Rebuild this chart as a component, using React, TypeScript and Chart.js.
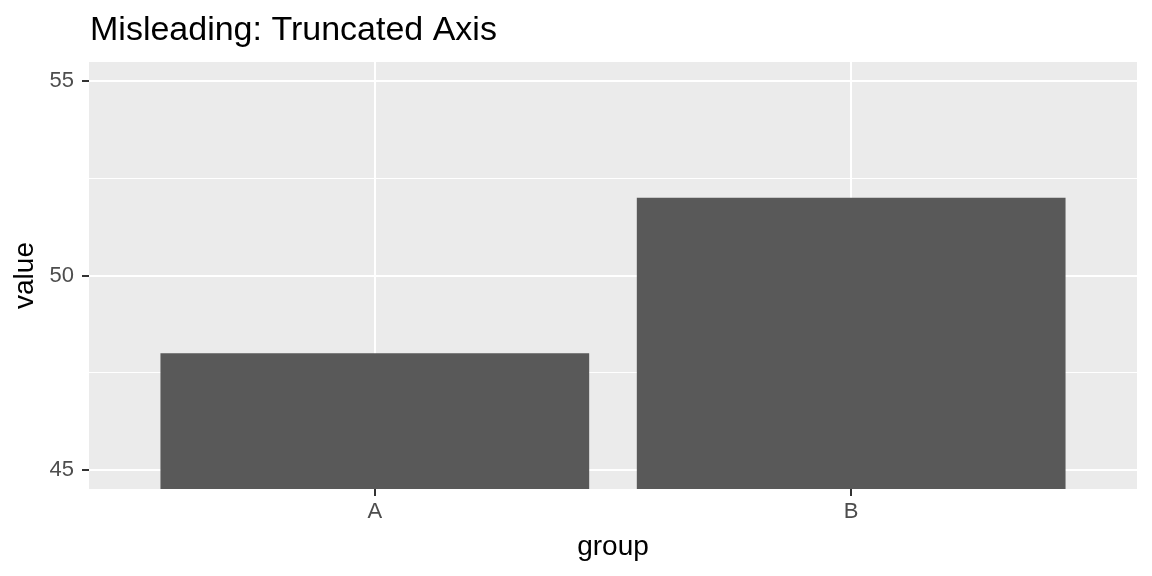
import { useEffect, useRef } from "react"
import { Chart, registerables, type ChartConfiguration, type Plugin } from "chart.js"

Chart.register(...registerables)

const groups = ["A", "B"]
const values = [48, 52]
const yTicks = [45, 50, 55]

const FONT = "'Liberation Sans', Arial, sans-serif"

// ggplot-like panel background and titles
const panelPlugin: Plugin = {
  id: "panel",
  beforeDraw(chart) {
    const { ctx, chartArea } = chart
    ctx.save()
    ctx.fillStyle = "#EBEBEB"
    ctx.fillRect(chartArea.left, chartArea.top, chartArea.right - chartArea.left, chartArea.bottom - chartArea.top)
    ctx.restore()
  },
  afterDraw(chart) {
    const { ctx, chartArea } = chart
    ctx.save()
    ctx.fillStyle = "#000000"
    ctx.font = `34px ${FONT}`
    ctx.textAlign = "left"
    ctx.textBaseline = "alphabetic"
    ctx.fillText("Misleading: Truncated Axis", chartArea.left + 1, 40)

    ctx.font = `28px ${FONT}`
    ctx.textAlign = "center"
    ctx.fillText("group", (chartArea.left + chartArea.right) / 2, 555)

    ctx.translate(33, (chartArea.top + chartArea.bottom) / 2)
    ctx.rotate(-Math.PI / 2)
    ctx.fillText("value", 0, 0)
    ctx.restore()
  },
}

export default function App() {
  const chartRef = useRef<HTMLCanvasElement>(null)
  const chartInstance = useRef<Chart | null>(null)

  useEffect(() => {
    if (!chartRef.current) return
    const ctx = chartRef.current.getContext("2d")
    if (!ctx) return

    if (chartInstance.current) {
      chartInstance.current.destroy()
    }

    const config: ChartConfiguration = {
      type: "bar",
      data: {
        datasets: [
          {
            data: values.map((v, i) => ({ x: i, y: v })),
            backgroundColor: "#595959",
            borderWidth: 0,
            categoryPercentage: 0.9,
            barPercentage: 1,
          },
        ],
      },
      options: {
        animation: false,
        responsive: true,
        maintainAspectRatio: false,
        layout: { padding: { top: 62, right: 15, left: 0, bottom: 0 } },
        plugins: {
          legend: { display: false },
          tooltip: { enabled: false },
          title: { display: false },
        },
        scales: {
          x: {
            type: "linear",
            min: -0.6,
            max: groups.length - 0.4,
            offset: false,
            border: { display: false },
            grid: {
              offset: false,
              color: "#FFFFFF",
              lineWidth: 2,
              tickLength: 7,
              tickColor: "#333333",
              tickWidth: 2,
            },
            ticks: {
              stepSize: 1,
              includeBounds: false,
              padding: 3,
              color: "#4D4D4D",
              font: { family: FONT, size: 22 },
              callback: (v) => groups[Number(v)] ?? "",
            },
            afterFit: (scale) => {
              scale.height = 87
            },
          },
          y: {
            min: 44.5,
            max: 55.5,
            border: { display: false },
            grid: {
              color: "#FFFFFF",
              lineWidth: (c) => (yTicks.includes(c.tick?.value) ? 2 : 1),
              tickLength: 7,
              tickColor: (c) => (yTicks.includes(c.tick?.value) ? "#333333" : "rgba(0,0,0,0)"),
              tickWidth: 2,
            },
            ticks: {
              stepSize: 2.5,
              includeBounds: false,
              padding: 8,
              color: "#4D4D4D",
              font: { family: FONT, size: 22 },
              callback: (v) => (yTicks.includes(Number(v)) ? String(v) : ""),
            },
            afterFit: (scale) => {
              scale.width = 89
            },
          },
        },
      },
      plugins: [panelPlugin],
    }

    chartInstance.current = new Chart(ctx, config)

    return () => {
      if (chartInstance.current) {
        chartInstance.current.destroy()
        chartInstance.current = null
      }
    }
  }, [])

  return (
    <div style={{ position: "absolute", left: 0, top: 0, width: 1152, height: 576, background: "#FFFFFF" }}>
      <canvas ref={chartRef}></canvas>
    </div>
  )
}
